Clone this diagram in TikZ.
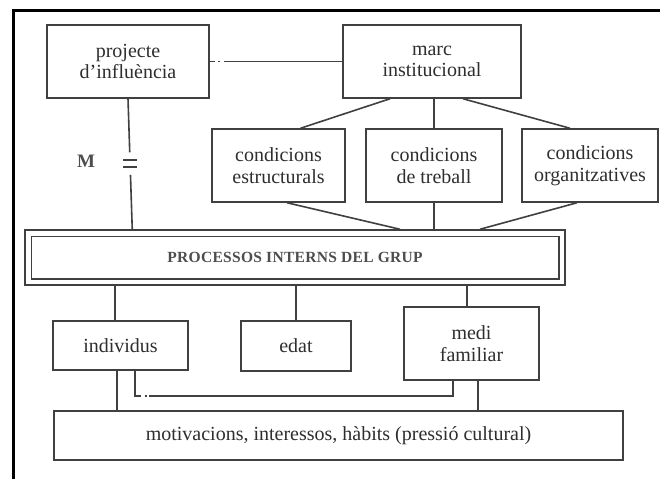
\documentclass[tikz,border=0pt]{standalone}
\usepackage{fontspec}
\setmainfont{Liberation Serif}
\usetikzlibrary{calc}
\definecolor{linegray}{HTML}{404040}
\definecolor{textgray}{HTML}{2E2E2E}
\begin{document}
\begin{tikzpicture}[x=1pt,y=-1pt,
  box/.style={draw=linegray, line width=1.5pt, rectangle, inner sep=0pt, align=center,
    text=textgray, font=\fontsize{20}{21.5}\selectfont},
  conn/.style={draw=linegray, line width=1.6pt},
  bar/.style={draw=linegray, line width=2.8pt},
  frameline/.style={draw=black, line width=3pt}
]
\useasboundingbox[fill=white] (0,0) rectangle (660,479);
% frame
\draw[frameline] (13,479) -- (13,10) -- (660,10);

% top row
\node[box, minimum width=162, minimum height=73] (proj) at (128,61.5) {projecte\\d’influència};
\node[box, minimum width=178, minimum height=73] (marc) at (432,61.5) {marc\\institucional};

% conditions
\node[box, minimum width=133, minimum height=73] (estr) at (278.5,165.5) {condicions\\estructurals};
\node[box, minimum width=136, minimum height=73] (treb) at (434,165.5) {condicions\\de treball};
\node[box, minimum width=136, minimum height=73] (orga) at (590,165.5) {condicions\\organitzatives};

% processos
\node[draw=linegray, line width=1.5pt, rectangle, minimum width=540, minimum height=55, inner sep=0pt,
  text=textgray!85, font=\fontsize{15.5}{17}\selectfont\bfseries\addfontfeature{LetterSpace=2}] (proc) at (295,257.5)
  {PROCESSOS INTERNS DEL GRUP};
\draw[draw=linegray, line width=1.5pt] ($(proc.north west)+(7,7)$) rectangle ($(proc.south east)+(-7,-7)$);

% bottom row
\node[box, minimum width=135, minimum height=49] (indi) at (120.5,345.5) {individus};
\node[box, minimum width=110, minimum height=50] (edat) at (296,346) {edat};
\node[box, minimum width=135, minimum height=73] (medi) at (471.5,343.5) {medi\\familiar};
\node[box, minimum width=569, minimum height=49] (moti) at (338.5,435.5) {motivacions, interessos, hàbits (pressió cultural)};

% projecte -- marc (dash-dot start)
\coordinate (pm) at ($(proj.east)+(19,0)$);
\draw[conn, dash pattern=on 5pt off 3pt on 2pt off 4pt] (proj.east) -- (pm);
\draw[conn] (pm) -- (marc.west);

% marc -- conditions
\draw[conn] ($(marc.south)+(-42,0)$) -- ($(estr.north)+(22,0)$);
\draw[conn] (treb.north) -- (treb.north |- marc.south);
\draw[conn] ($(marc.south)+(31,0)$) -- ($(orga.north)+(-20,0)$);

% conditions -- processos
\draw[conn] ($(estr.south)+(8.5,0)$) -- ($(proc.north)+(105,0)$);
\draw[conn] (treb.south) -- (treb.south |- proc.north);
\draw[conn] ($(orga.south)+(-13,0)$) -- ($(proc.north)+(185,0)$);

% projecte -- processos with break
\coordinate (pa) at (proj.south);
\coordinate (pb) at ($(proc.north west)+(108,0)$);
\path (pa) -- (pb) coordinate[pos=0.41] (g1) coordinate[pos=0.583] (g2)
  coordinate[pos=0.47] (b1) coordinate[pos=0.523] (b2);
\draw[conn] (pa) -- (g1);
\draw[conn] (g2) -- (pb);
\draw[bar] ($(b1)+(-7,0)$) -- ($(b1)+(7,0)$);
\draw[bar] ($(b2)+(-7,0)$) -- ($(b2)+(7,0)$);
\node[text=textgray!85, font=\fontsize{19}{21}\selectfont\bfseries] (mlab) at (86,161) {M};

% processos -- bottom row
\coordinate (ci) at ($(indi.north)+(-5.5,0)$);
\draw[conn] (ci) -- (ci |- proc.south);
\draw[conn] (edat.north) -- (edat.north |- proc.south);
\coordinate (cm) at ($(medi.north)+(-4.5,0)$);
\draw[conn] (cm) -- (cm |- proc.south);

% bottom connectors
\coordinate (ci2) at ($(indi.south)+(-3.5,0)$);
\draw[conn] (ci2) -- (ci2 |- moti.north);
\coordinate (cm2) at ($(medi.south)+(6.5,0)$);
\draw[conn] (cm2) -- (cm2 |- moti.north);

% individus -- medi bracket
\coordinate (k1) at ($(indi.south)+(14.5,0)$);
\coordinate (k2) at ($(k1)+(0,25)$);
\coordinate (k4) at ($(medi.south)+(-18.5,0)$);
\coordinate (k3) at (k4 |- k2);
\draw[conn] (k1) -- (k2) -- ($(k2)+(6,0)$);
\draw[conn] ($(k2)+(9.5,0)$) -- ($(k2)+(11.5,0)$);
\draw[conn] ($(k2)+(14,0)$) -- (k3) -- (k4);
\end{tikzpicture}
\end{document}
